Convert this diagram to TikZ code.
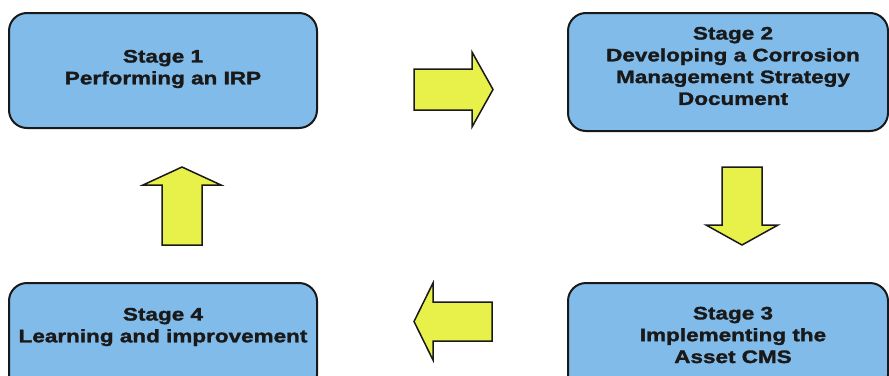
\documentclass[tikz,border=0pt]{standalone}
\usepackage{fontspec}
\newfontfamily\boxfont{Liberation Sans}[FakeStretch=1.25,BoldFeatures={FakeStretch=1.25,FakeBold=1.6}]
\definecolor{boxblue}{RGB}{128,187,234}
\definecolor{arrowyellow}{RGB}{232,240,74}
\definecolor{edge}{RGB}{25,25,25}
\begin{document}
\begin{tikzpicture}[x=1pt,y=-1pt,
  stagebox/.style={draw=edge,line width=2pt,fill=boxblue,rounded corners=18pt,inner sep=0pt},
  stagetext/.style={align=center,font=\boxfont\bfseries\fontsize{18}{21.8}\selectfont,text=black!90,inner sep=0pt},
  blockarrow/.style={draw=edge,line width=1.5pt,fill=arrowyellow,line join=miter}]
\useasboundingbox (0,0) rectangle (889,375);
\clip (0,0) rectangle (889,375);
% boxes
\node[stagebox,minimum width=308pt,minimum height=115pt] (b1) at (163,70.5) {};
\node[stagebox,minimum width=320pt,minimum height=118pt] (b2) at (728,72) {};
\node[stagebox,minimum width=320pt,minimum height=110pt] (b3) at (728,338) {};
\node[stagebox,minimum width=308pt,minimum height=110pt] (b4) at (163,338) {};
% texts
\node[stagetext] (t1) at (163,69) {Stage 1\\Performing an IRP};
\node[stagetext] (t2) at (733,66) {Stage 2\\Developing a Corrosion\\Management Strategy\\Document};
\node[stagetext] (t3) at (733,335) {Stage 3\\Implementing the\\Asset CMS};
\node[stagetext] (t4) at (163,327) {Stage 4\\Learning and improvement};
% block arrows
\draw[blockarrow] (414,69) -- (472,69) -- (472,52) -- (493,89.5) -- (472,127) -- (472,110) -- (414,110) -- cycle;
\draw[blockarrow] (722,167) -- (762,167) -- (762,225) -- (778,225) -- (742,245) -- (706,225) -- (722,225) -- cycle;
\draw[blockarrow] (492,302) -- (433,302) -- (433,283) -- (414,321.5) -- (433,360) -- (433,341) -- (492,341) -- cycle;
\draw[blockarrow] (162,245) -- (162,185) -- (143,185) -- (182,167) -- (221,185) -- (202,185) -- (202,245) -- cycle;
\end{tikzpicture}
\end{document}
